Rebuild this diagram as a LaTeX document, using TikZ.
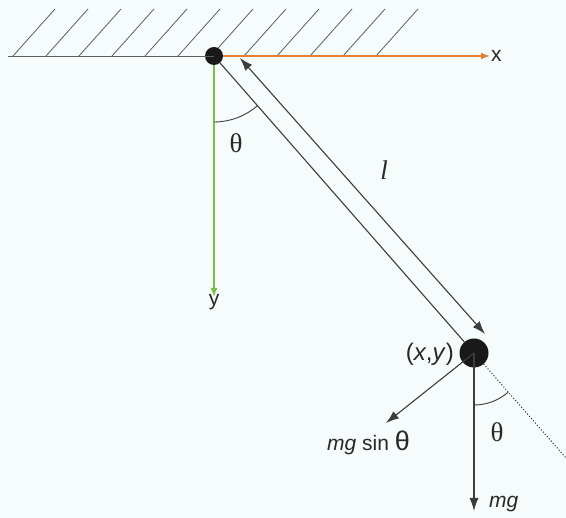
\documentclass[tikz,border=0pt]{standalone}
\usepackage{fontspec}
\setmainfont{Liberation Sans}
\newfontfamily\thfont{Liberation Serif}
\usetikzlibrary{arrows.meta,calc}
\definecolor{bgc}{RGB}{246,251,252}
\definecolor{axorange}{RGB}{228,128,52}
\definecolor{axgreen}{RGB}{122,192,70}
\definecolor{ink}{RGB}{40,40,40}
\begin{document}
\begin{tikzpicture}[x=1pt,y=-1pt,
  hatch/.style={draw=ink!75,line width=0.8pt},
  ln/.style={draw=ink!90,line width=1.1pt},
  arr/.style={ln,-{Latex[length=13pt,width=9pt]}},
  darr/.style={ln,{Latex[length=13pt,width=9pt]}-{Latex[length=13pt,width=9pt]}},
  lbl/.style={font=\fontsize{21}{24}\selectfont,text=ink,inner sep=1pt},
  thlbl/.style={font=\thfont\fontsize{27}{29}\selectfont,text=ink,inner sep=1pt}]
\fill[bgc] (0,0) rectangle (566,518);
\useasboundingbox (0,0) rectangle (566,518);
% ceiling
\foreach \i in {0,...,11} \draw[hatch] ({13+33*\i},56) -- ++(42,-47);
\coordinate (cl) at (8,56);
\coordinate (xend) at (490,56);
\coordinate (yend) at (214,297);
\node[circle,fill=black!90,minimum size=18pt,inner sep=0pt] (P) at (214,56) {};
\node[circle,fill=black!90,minimum size=29pt,inner sep=0pt] (B) at (474,353) {};
\draw[hatch] (cl) -- (P.center);
\draw[axorange,line width=1.6pt,-{Latex[length=9pt,width=7pt]}] (P.east) -- (xend);
\node[lbl,anchor=west] (xl) at (490,56) {x};
\draw[axgreen,line width=1.6pt,-{Latex[length=9pt,width=7pt]}] (P.south) -- (yend);
\node[lbl,anchor=north] (yl) at (214,293) {y};
% rod
\draw[ln] (P) -- (B);
% length arrow
\coordinate (a1) at (240,58);
\coordinate (a2) at (485,334);
\draw[darr] (a1) -- (a2);
\node[font=\thfont\itshape\fontsize{27}{29}\selectfont,text=ink] (ll) at (384,170) {l};
% theta at pivot
\draw[ln,line width=0.9pt] ($(P.center)+(0,66)$) arc[start angle=90,end angle=48.8,radius=66];
\node[thlbl] (th1) at (236,143) {θ};
% dotted continuation
\coordinate (dend) at (566,458);
\draw[ink,line width=1pt,dotted] (B) -- (dend);
% forces
\coordinate (mgend) at (474,511);
\coordinate (mgsend) at (386,423);
\draw[arr] (B.center) -- (mgend);
\draw[arr] (B.center) -- (mgsend);
\node[lbl,anchor=west] (mgl) at (488,504) {\textit{mg}};
\node[lbl,anchor=west] (mgsl) at (326,443) {\textit{mg} sin {\fontsize{27}{29}\selectfont θ}};
\node[font=\fontsize{24}{27}\selectfont,text=ink,inner sep=1pt,anchor=east] (xyl) at (455,354) {(\textit{x},\textit{y})};
\draw[ln,line width=0.9pt] ($(B.center)+(0,52)$) arc[start angle=90,end angle=48.8,radius=52];
\node[thlbl] (th2) at (497,432) {θ};
\end{tikzpicture}
\end{document}
